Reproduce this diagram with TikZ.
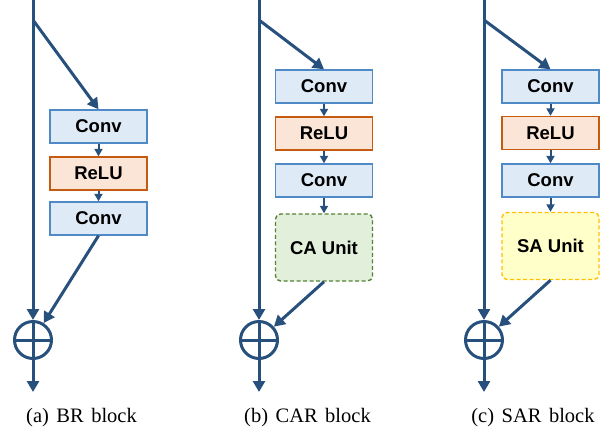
\documentclass[tikz,border=0pt]{standalone}
\usepackage{fontspec}
\setmainfont{Liberation Serif}
\setsansfont{Liberation Sans}
\usetikzlibrary{arrows.meta}
\definecolor{flow}{HTML}{27507D}
\definecolor{convline}{HTML}{4F89C6}
\definecolor{convfill}{HTML}{DEEBF7}
\definecolor{reluline}{HTML}{C55A11}
\definecolor{relufill}{HTML}{FBE5D6}
\definecolor{caline}{HTML}{548235}
\definecolor{cafill}{HTML}{E2EFDA}
\definecolor{saline}{HTML}{FFC000}
\definecolor{safill}{HTML}{FFFFC9}
\newcommand\subcapfont{\fontsize{20.5}{24}\selectfont\spaceskip=7.5pt\relax}

\begin{document}
\begin{tikzpicture}[x=1pt,y=-1pt,
   blk/.style={draw=#1line,fill=#1fill,line width=1.4pt,inner sep=0pt,
     minimum width=97pt,minimum height=33pt,
     font=\sffamily\bfseries\fontsize{18.5}{21}\selectfont},
   unit/.style={blk=#1,dashed,dash pattern=on 4pt off 2.5pt,rounded corners=5pt,minimum height=67pt},
   main/.style={draw=flow,line width=3pt,-{Triangle[length=11pt,width=12pt]}},
   link/.style={draw=flow,line width=2pt,-{Triangle[length=7.5pt,width=8pt]}},
   sum/.style={circle,draw=flow,line width=3pt,inner sep=0pt,minimum size=37pt,
     path picture={\draw[flow,line width=3pt]
       (path picture bounding box.north) -- (path picture bounding box.south)
       (path picture bounding box.west) -- (path picture bounding box.east);}},
   subcap/.style={anchor=base,font=\subcapfont}]
  \useasboundingbox (0,0) rectangle (613,432);

  % (a) BR block
  \coordinate (ta) at (33,0);
  \coordinate (ba) at (33,20);
  \node[blk=conv] (ca1) at (98.5,126.5) {Conv};
  \node[blk=relu] (ra) at (98.5,173.5) {ReLU};
  \node[blk=conv] (ca2) at (98.5,218.5) {Conv};
  \node[sum] (sa) at (33,340) {};
  \coordinate (oa) at (33,392);
  \draw[main] (ta) -- (sa);
  \draw[main] (ba) -- (ca1.north);
  \draw[link] (ca1) -- (ra);
  \draw[link] (ra) -- (ca2);
  \draw[main] (ca2.south) -- (sa);
  \draw[main] (sa) -- (oa);
  \node[subcap] (capa) at (81.5,422) {(a) BR block};

  % (b) CAR block
  \coordinate (tb) at (259,0);
  \coordinate (bb) at (259,20);
  \node[blk=conv] (cb1) at (324,86.5) {Conv};
  \node[blk=relu] (rb) at (324,133.5) {ReLU};
  \node[blk=conv] (cb2) at (324,180.5) {Conv};
  \node[unit=ca] (ub) at (324,247.5) {CA Unit};
  \node[sum] (sb) at (259,340) {};
  \coordinate (ob) at (259,392);
  \draw[main] (tb) -- (sb);
  \draw[main] (bb) -- (cb1.north);
  \draw[link] (cb1) -- (rb);
  \draw[link] (rb) -- (cb2);
  \draw[link] (cb2) -- (ub);
  \draw[main] (ub.south) -- (sb);
  \draw[main] (sb) -- (ob);
  \node[subcap] (capb) at (307.5,422) {(b) CAR block};

  % (c) SAR block
  \coordinate (tc) at (484,0);
  \coordinate (bc) at (484,20);
  \node[blk=conv] (cc1) at (550.5,86.5) {Conv};
  \node[blk=relu] (rc) at (550.5,133) {ReLU};
  \node[blk=conv] (cc2) at (550.5,180.5) {Conv};
  \node[unit=sa] (uc) at (550.5,246) {SA Unit};
  \node[sum] (sc) at (484,340) {};
  \coordinate (oc) at (484,392);
  \draw[main] (tc) -- (sc);
  \draw[main] (bc) -- (cc1.north);
  \draw[link] (cc1) -- (rc);
  \draw[link] (rc) -- (cc2);
  \draw[link] (cc2) -- (uc);
  \draw[main] (uc.south) -- (sc);
  \draw[main] (sc) -- (oc);
  \node[subcap] (capc) at (533,422) {(c) SAR block};
\end{tikzpicture}
\end{document}
